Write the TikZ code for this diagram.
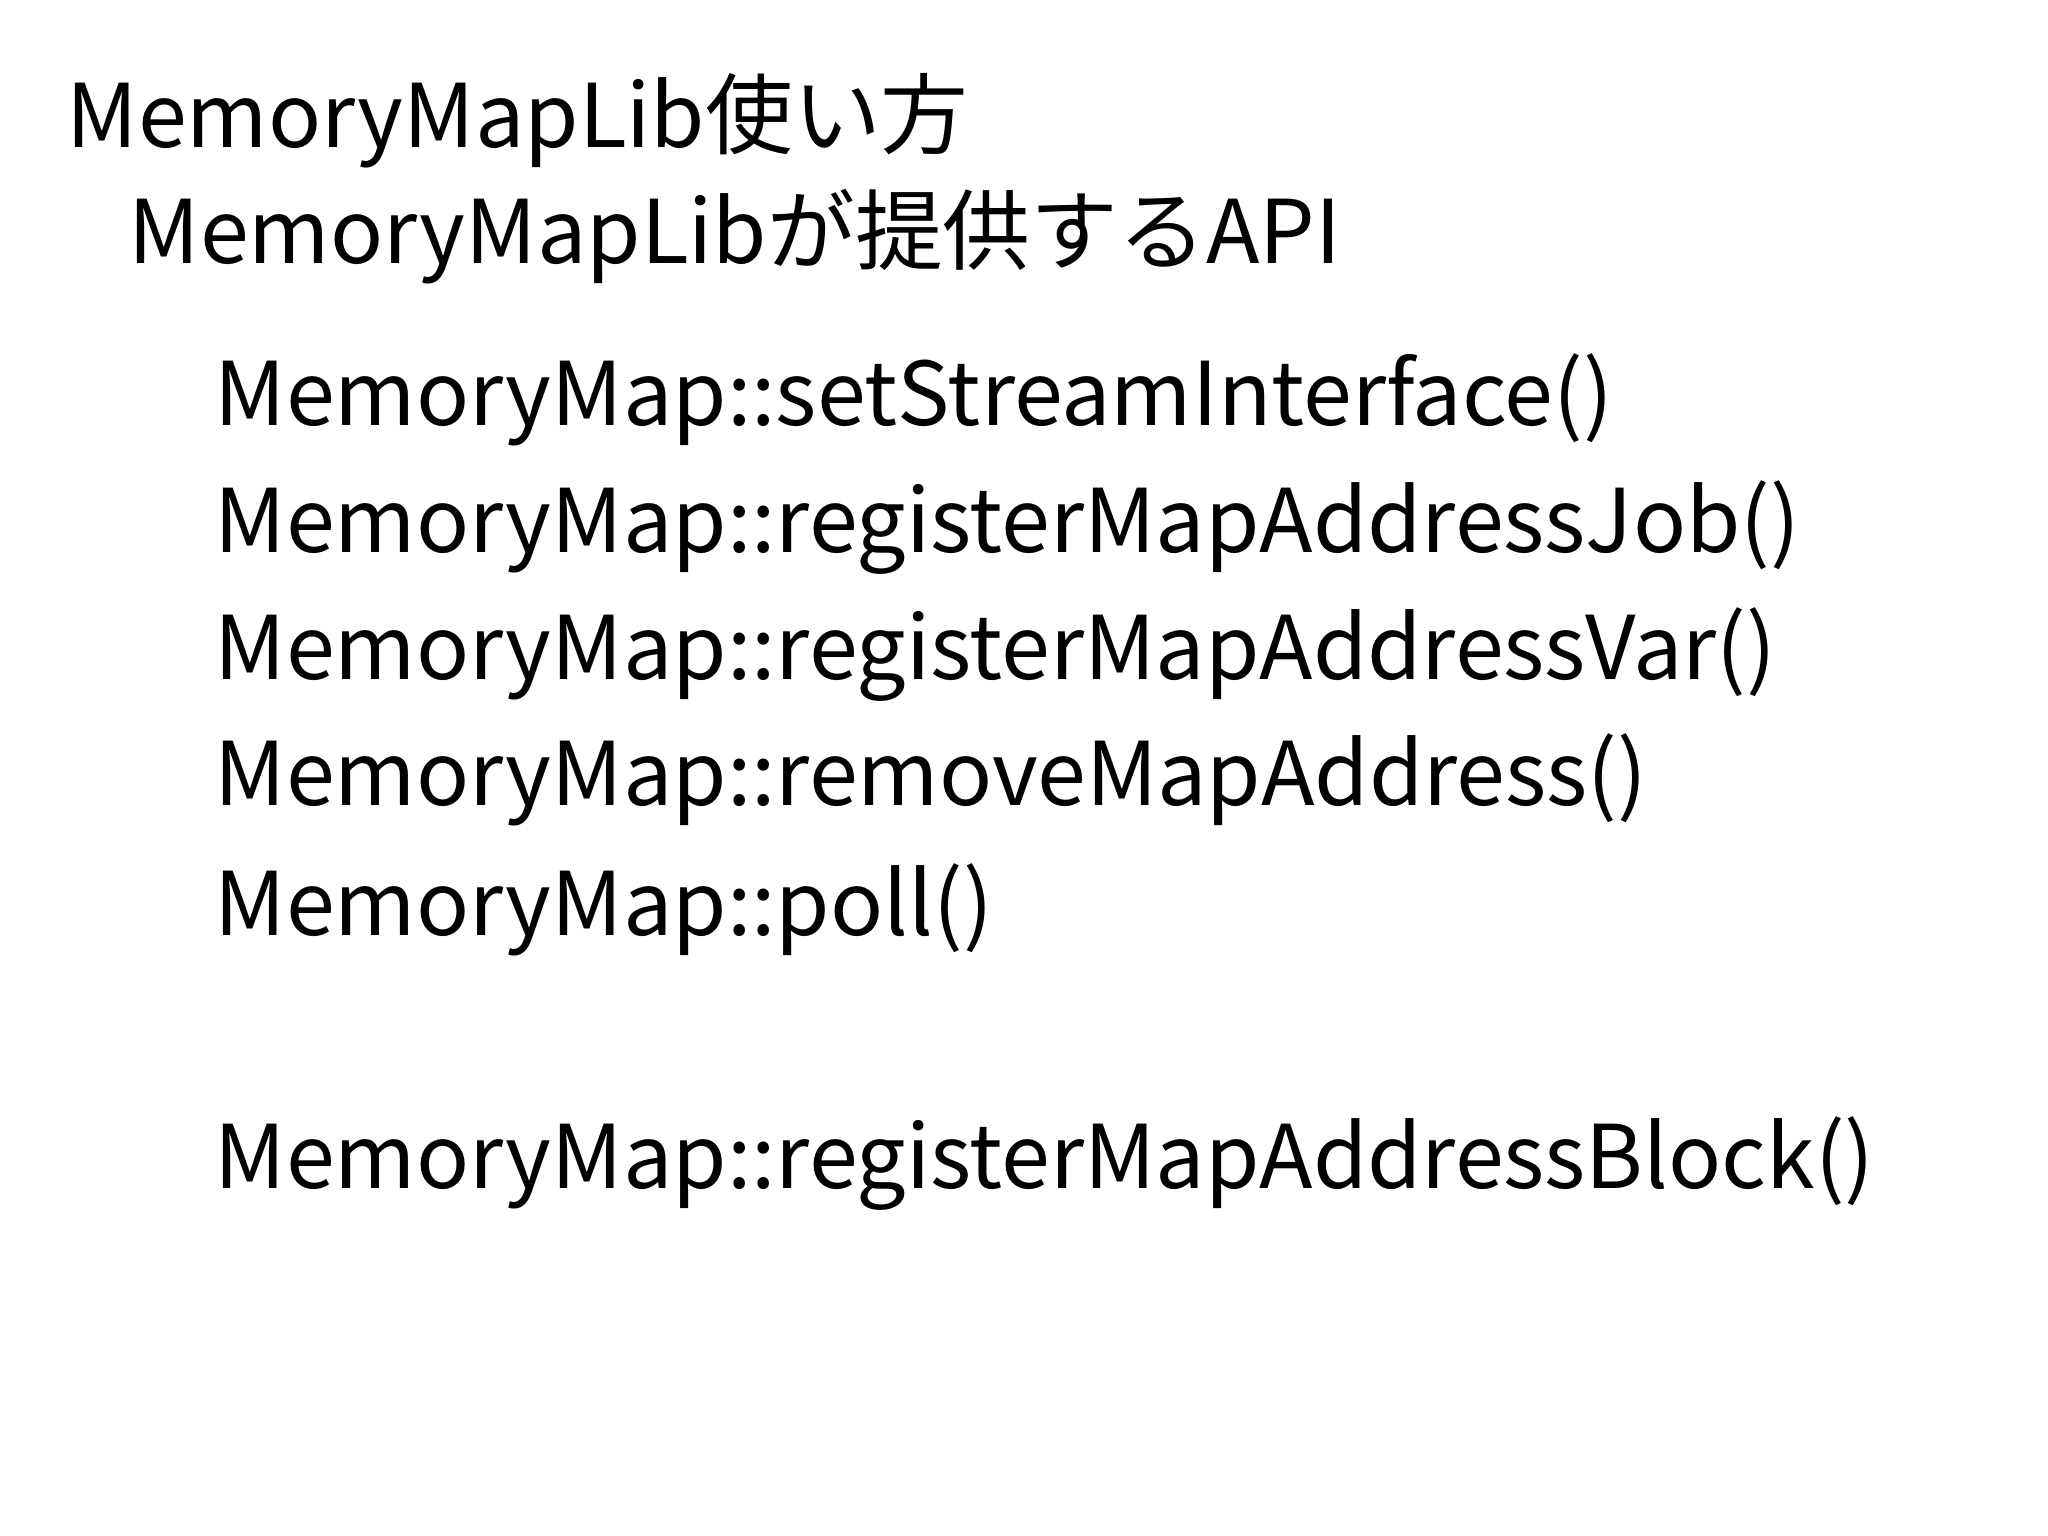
\documentclass[tikz,border=0pt]{standalone}
\usepackage{fontspec}
\setmainfont{Noto Sans CJK JP}
\begin{document}
\begin{tikzpicture}[x=1cm,y=1cm,t/.style={anchor=base west,inner sep=0pt,font=\fontsize{25}{30}\selectfont}]
\useasboundingbox (0,0) rectangle (20.48,-15.36);
\node[t] (a) at (0.66,-1.48) {MemoryMapLib使い方};
\node[t] (b) at (1.28,-2.64) {MemoryMapLibが提供するAPI};
\node[t] (c1) at (2.14,-4.26) {MemoryMap::setStreamInterface()};
\node[t] (c2) at (2.14,-5.52) {MemoryMap::registerMapAddressJob()};
\node[t] (c3) at (2.14,-6.80) {MemoryMap::registerMapAddressVar()};
\node[t] (c4) at (2.14,-8.05) {MemoryMap::removeMapAddress()};
\node[t] (c5) at (2.14,-9.35) {MemoryMap::poll()};
\node[t] (c6) at (2.14,-11.88) {MemoryMap::registerMapAddressBlock()};
\end{tikzpicture}
\end{document}
